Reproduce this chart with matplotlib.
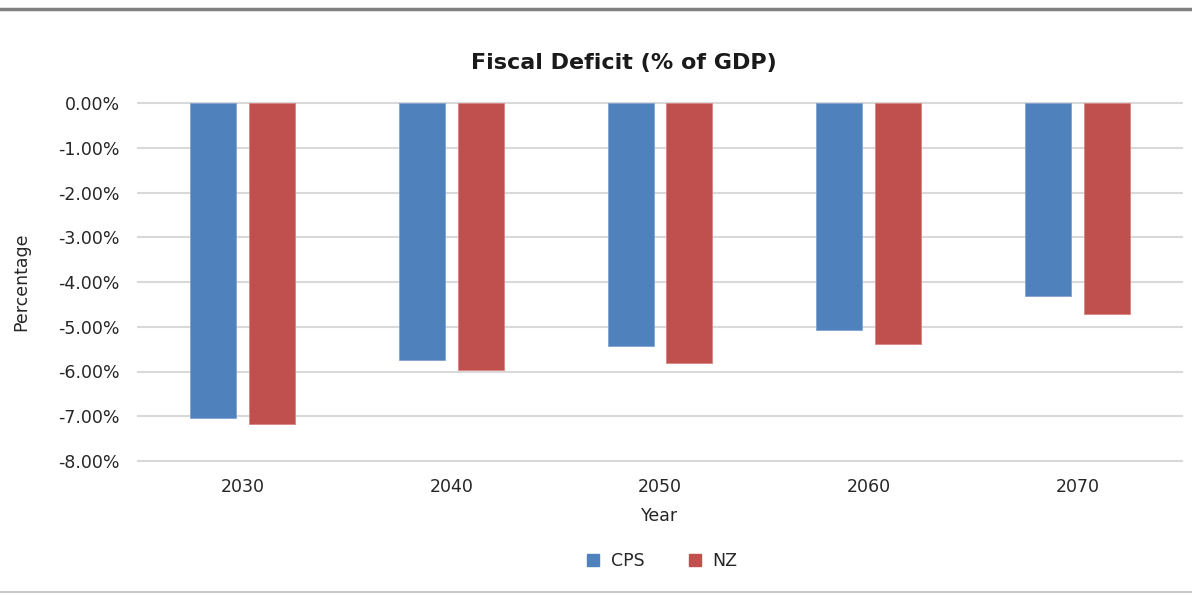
import matplotlib
matplotlib.use("Agg")
import matplotlib.pyplot as plt
from matplotlib.lines import Line2D
from matplotlib.ticker import FuncFormatter, MultipleLocator
import numpy as np

years = ["2030", "2040", "2050", "2060", "2070"]
cps = [-7.03, -5.75, -5.42, -5.08, -4.31]
nz = [-7.18, -5.97, -5.80, -5.38, -4.71]

plt.rcParams['font.family'] = ['DejaVu Sans']

fig = plt.figure(figsize=(11.92, 5.95), dpi=100)
ax = fig.add_axes([138/1192, 1-461/595, 1044/1192, 358/595])

x = np.arange(len(years))
w = 0.22
off = 0.141
ax.bar(x - off, cps, w, color='#4F81BD', edgecolor='#7FA3D0', linewidth=0.6, label='CPS', zorder=3)
ax.bar(x + off, nz, w, color='#C0504D', edgecolor='#D98583', linewidth=0.6, label='NZ', zorder=3)

ax.set_xlim(-0.5, len(years) - 0.5)
ax.set_ylim(-8, 0)
ax.yaxis.set_major_locator(MultipleLocator(1))
ax.yaxis.set_major_formatter(FuncFormatter(lambda v, p: f"{v:.2f}%"))
ax.grid(axis='y', color='#D9D9D9', linewidth=1.5, zorder=0)
for gl in ax.get_ygridlines():
    gl.set_clip_on(False)
for s in ax.spines.values():
    s.set_visible(False)
ax.tick_params(axis='both', length=0, labelsize=12.5, colors='#262626', pad=12)
ax.tick_params(axis='y', pad=13)
ax.set_xticks(x)
ax.set_xticklabels(years)
ax.set_xlabel("Year", fontsize=12.5, color='#262626', labelpad=8)
ax.set_ylabel("Percentage", fontsize=12.5, color='#262626', labelpad=20)
fig.text(624/1192, 1-63/595, "Fiscal Deficit (% of GDP)", fontsize=16, fontweight='bold',
         color='#1a1a1a', ha='center', va='center')

leg = fig.legend(handles=[Line2D([], [], marker='s', color='#4F81BD', linestyle='', markersize=8, label='CPS'),
                          Line2D([], [], marker='s', color='#C0504D', linestyle='', markersize=8, label='NZ')],
                 loc='center', bbox_to_anchor=(661/1192, 1-561/595), ncol=2, frameon=False,
                 fontsize=12.5, handletextpad=0.5, columnspacing=2.4, handlelength=1.0)
for t in leg.get_texts():
    t.set_color('#262626')

fig.add_artist(Line2D([0, 1], [1-9/595, 1-9/595], color='#7F7F7F', linewidth=2.5, transform=fig.transFigure))
fig.add_artist(Line2D([0, 1], [1-592/595, 1-592/595], color='#BFBFBF', linewidth=1.2, transform=fig.transFigure))

fig.savefig("out.png", dpi=100)
